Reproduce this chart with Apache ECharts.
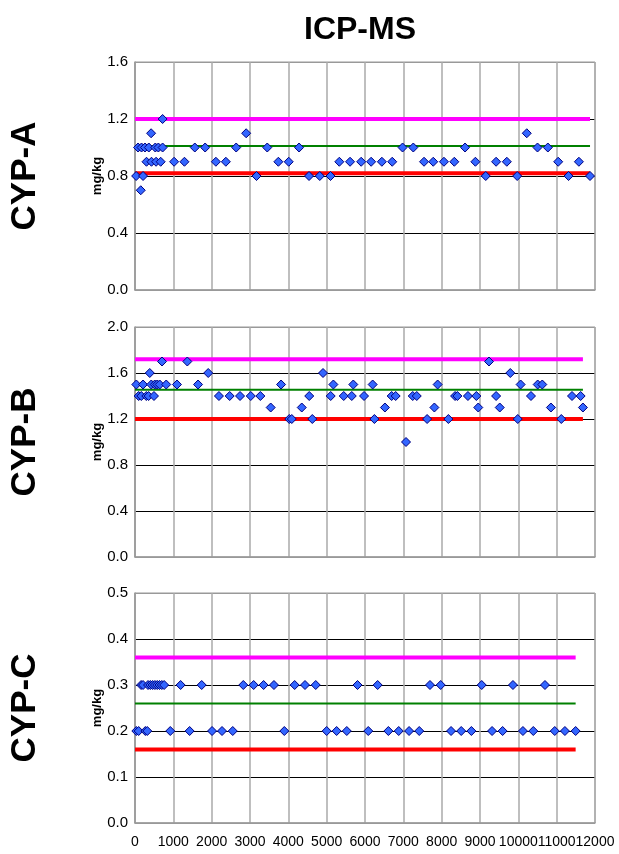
<!DOCTYPE html>
<html><head><meta charset="utf-8">
<script src="https://cdn.jsdelivr.net/npm/echarts@6/dist/echarts.min.js"></script>
<style>html,body{margin:0;padding:0;background:#fff}#c{width:619px;height:854px}</style>
</head><body><div id="c"></div>
<script>
const chartTitle = 'ICP-MS';
const panelNames = ['CYP-A', 'CYP-B', 'CYP-C'];
const unitLabel = 'mg/kg';

// CYP-A
const aX = [30,80,150,170,210,260,300,360,420,430,530,550,610,670,720,720,1020,1290,1560,1830,2110,2370,2640,2900,3170,3450,3740,4010,4280,4540,4820,5100,5330,5610,5900,6160,6440,6710,6980,7260,7540,7780,8060,8330,8610,8880,9150,9420,9700,9970,10220,10500,10770,11040,11310,11580,11870];
const aY = [0.8,1.0,0.7,1.0,0.8,1.0,0.9,1.0,1.1,0.9,1.0,0.9,1.0,0.9,1.0,1.2,0.9,0.9,1.0,1.0,0.9,0.9,1.0,1.1,0.8,1.0,0.9,0.9,1.0,0.8,0.8,0.8,0.9,0.9,0.9,0.9,0.9,0.9,1.0,1.0,0.9,0.9,0.9,0.9,1.0,0.9,0.8,0.9,0.9,0.8,1.1,1.0,1.0,0.9,0.8,0.9,0.8];
// CYP-B
const bX = [35,95,165,210,295,355,385,425,495,515,580,645,705,815,1095,1365,1645,1910,2190,2470,2740,3020,3270,3540,3810,4025,4090,4350,4545,4625,4905,5105,5175,5445,5655,5695,5975,6200,6245,6520,6695,6800,7070,7245,7350,7620,7810,7895,8175,8350,8410,8685,8905,8955,9235,9420,9515,9790,9985,10060,10330,10505,10625,10850,11120,11400,11625,11685];
const bY = [1.5,1.4,1.4,1.5,1.4,1.4,1.6,1.5,1.4,1.5,1.5,1.5,1.7,1.5,1.5,1.7,1.5,1.6,1.4,1.4,1.4,1.4,1.4,1.3,1.5,1.2,1.2,1.3,1.4,1.2,1.6,1.4,1.5,1.4,1.4,1.5,1.4,1.5,1.2,1.3,1.4,1.4,1.0,1.4,1.4,1.2,1.3,1.5,1.2,1.4,1.4,1.4,1.4,1.3,1.7,1.4,1.3,1.6,1.2,1.5,1.4,1.5,1.5,1.3,1.2,1.4,1.4,1.3];
// CYP-C
const cX = [35,95,160,210,270,320,340,400,460,520,580,640,700,760,920,1190,1425,1740,2010,2270,2550,2825,3095,3355,3625,3895,4165,4435,4715,5000,5260,5525,5805,6085,6330,6610,6880,7150,7415,7695,7975,8245,8510,8775,9045,9315,9590,9860,10120,10390,10695,10950,11215,11495];
const cY = [0.2,0.2,0.3,0.3,0.2,0.2,0.3,0.3,0.3,0.3,0.3,0.3,0.3,0.3,0.2,0.3,0.2,0.3,0.2,0.2,0.2,0.3,0.3,0.3,0.3,0.2,0.3,0.3,0.3,0.2,0.2,0.2,0.3,0.2,0.3,0.2,0.2,0.2,0.2,0.3,0.3,0.2,0.2,0.2,0.3,0.2,0.2,0.3,0.2,0.2,0.3,0.2,0.2,0.2];

// reference levels: [upper (magenta), mean (green), lower (red)]
const aLimits = [1.2, 1.01, 0.82];
const bLimits = [1.72, 1.455, 1.2];
const cLimits = [0.36, 0.26, 0.16];

const yMaxes = [1.6, 2.0, 0.5];
const yIntervals = [0.4, 0.4, 0.1];
const xMin = 0, xMax = 12000, xInterval = 1000;

const panels = [
  {x: aX, y: aY, lim: aLimits},
  {x: bX, y: bY, lim: bLimits},
  {x: cX, y: cY, lim: cLimits}
];

const gridTops = [62, 327, 593];
const gridHeights = [228, 230, 230];
const limitColors = ['#ff00ff', '#008000', '#ff0000'];
const limitWidths = [4, 2, 4];
const FONT = 'Liberation Sans, Arial, sans-serif';

const grids = [], xAxes = [], yAxes = [], series = [], graphics = [];
panels.forEach((p, i) => {
  grids.push({left: 135, right: 24, top: gridTops[i], height: gridHeights[i],
    show: true, borderColor: '#999', borderWidth: 1, backgroundColor: 'transparent'});
  xAxes.push({
    type: 'value', gridIndex: i, min: xMin, max: xMax, interval: xInterval,
    axisLine: {show: true, lineStyle: {color: '#999', width: 1.5}},
    axisTick: {show: false},
    axisLabel: {show: i === 2, color: '#000', fontSize: 14, fontFamily: FONT, margin: 12, hideOverlap: false,
      showMinLabel: true, showMaxLabel: true, formatter: v => String(v)},
    splitLine: {show: true, lineStyle: {color: '#aaa', width: 1.5}}
  });
  const nTicks = Math.round(yMaxes[i] / yIntervals[i]) + 1;
  const splitColors = [];
  for (let k = 0; k < nTicks; k++) splitColors.push(k === nTicks - 1 || k === 0 ? '#999' : '#000');
  yAxes.push({
    type: 'value', gridIndex: i, min: 0, max: yMaxes[i], interval: yIntervals[i],
    name: unitLabel, nameLocation: 'middle', nameRotate: 90, nameGap: 31, nameMoveOverlap: false,
    nameTextStyle: {color: '#000', fontSize: 13, fontWeight: 'bold', fontFamily: FONT},
    axisLine: {show: true, lineStyle: {color: '#999', width: 1.5}},
    axisTick: {show: false},
    axisLabel: {color: '#000', fontSize: 15, fontFamily: FONT, margin: 7, formatter: v => v.toFixed(1)},
    splitLine: {show: true, lineStyle: {color: splitColors, width: 1}}
  });
  const xEnd = Math.max(...p.x);
  p.lim.forEach((v, k) => {
    series.push({
      type: 'line', xAxisIndex: i, yAxisIndex: i, symbol: 'none', silent: true, z: 3,
      lineStyle: {color: limitColors[k], width: limitWidths[k]},
      data: [[xMin, v], [xEnd, v]]
    });
  });
  series.push({
    type: 'scatter', xAxisIndex: i, yAxisIndex: i, symbol: 'diamond', symbolSize: 9, z: 5,
    itemStyle: {color: '#3366ff', borderColor: '#000080', borderWidth: 1, opacity: 1},
    data: p.x.map((xv, j) => [xv, p.y[j]])
  });
  graphics.push({
    type: 'text', x: 25, y: gridTops[i] + gridHeights[i] / 2, rotation: Math.PI / 2,
    style: {text: panelNames[i], fontSize: 35, fontWeight: 'bold', fontFamily: FONT, fill: '#000',
      align: 'center', verticalAlign: 'middle'}
  });
});
graphics.push({
  type: 'text', x: 360, y: 30,
  style: {text: chartTitle, fontSize: 32, fontWeight: 'bold', fontFamily: FONT, fill: '#000',
    align: 'center', verticalAlign: 'middle'}
});

const chart = echarts.init(document.getElementById('c'), null, {renderer: 'canvas'});
chart.setOption({
  animation: false,
  backgroundColor: '#fff',
  grid: grids, xAxis: xAxes, yAxis: yAxes, series: series, graphic: graphics
});
</script></body></html>
